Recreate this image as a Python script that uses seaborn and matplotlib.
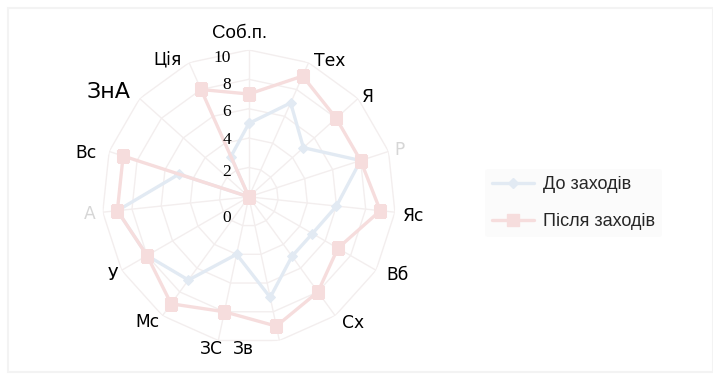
import numpy as np
import pandas as pd
import matplotlib
matplotlib.use("Agg")
import matplotlib.pyplot as plt
from matplotlib.lines import Line2D
from matplotlib.patches import Rectangle
import seaborn as sns

# Indicator codes around the radar, clockwise from the top
categories = ['Соб.п.', 'Тех', 'Я', 'Р', 'Яс', 'Вб', 'Сх', 'Зв', 'ЗС', 'Мс',
              'У', 'А', 'Вс', 'ЗнА', 'Ція']
before = [5, 7, 5, 8, 6, 5, 5, 7, 4, 7, 8, 9, 5, 0, 3]
after = [7, 9, 8, 8, 9, 7, 8, 9, 8, 9, 8, 9, 9, 0, 8]
series_names = ['До заходів', 'Після заходів']
r_ticks = [0, 2, 4, 6, 8, 10]

sns.set_theme(style='white')
plt.rcParams['font.family'] = ['DejaVu Sans']

W, H = 713, 380
fig = plt.figure(figsize=(W / 100, H / 100), dpi=100)
fig.patch.set_facecolor('white')

ax = fig.add_axes([0.143, 0.095, 0.412, 0.774], projection='polar')
ax.set_theta_offset(np.pi / 2)
ax.set_theta_direction(-1)
ax.set_ylim(0, max(r_ticks))
ax.grid(False)
ax.spines['polar'].set_visible(False)
ax.set_xticks([])
ax.set_yticks([])
ax.set_facecolor('none')

n = len(categories)
theta = np.linspace(0, 2 * np.pi, n, endpoint=False)
theta_closed = np.append(theta, theta[0])

# polygonal grid and spokes
grid_col = '#f3eeee'
for lvl in r_ticks[1:]:
    ax.plot(theta_closed, [lvl] * (n + 1), color=grid_col, lw=1.0, zorder=1)
for t in theta:
    ax.plot([t, t], [0, max(r_ticks)], color=grid_col, lw=1.0, zorder=1)

df = pd.DataFrame({
    'theta': np.concatenate([theta_closed, theta_closed]),
    'value': before + before[:1] + after + after[:1],
    'series': [series_names[0]] * (n + 1) + [series_names[1]] * (n + 1),
})

blue = '#e2eaf3'
red = '#f6dddd'
sns.lineplot(data=df[df.series == series_names[0]], x='theta', y='value',
             sort=False, estimator=None, color=blue, lw=2.4, marker='D',
             markersize=5.5, markeredgecolor=blue, ax=ax, zorder=3, legend=False)
sns.lineplot(data=df[df.series == series_names[1]], x='theta', y='value',
             sort=False, estimator=None, color=red, lw=2.4, marker='s',
             markersize=8.5, markeredgecolor=red, ax=ax, zorder=4, legend=False)
ax.set_xlabel('')
ax.set_ylabel('')
ax.set_ylim(0, max(r_ticks))


def ftext(px, py, s, ha='center', **kw):
    fig.text(px / W, 1 - py / H, s, ha=ha, va='center', **kw)


# category labels
label_pos = {
    'Соб.п.': (240, 33), 'Тех': (330, 61), 'Я': (368, 97), 'Р': (400, 150),
    'Яс': (414, 216), 'Вб': (397, 275), 'Сх': (353, 323), 'ЗС': (211, 349),
    'Зв': (243, 349), 'Мс': (147, 322), 'У': (113, 275), 'А': (90, 214),
    'Вс': (86, 153), 'ЗнА': (108, 92), 'Ція': (168, 59),
}
for cat in categories:
    px, py = label_pos[cat]
    if cat == 'ЗнА':
        size, family = 16, ['DejaVu Sans']
    elif cat == 'Соб.п.':
        size, family = 13.5, ['Liberation Sans']
    else:
        size, family = 12.3, ['DejaVu Sans']
    color = '#d6d6d6' if cat in ('Р', 'А') else 'black'
    ftext(px, py, cat, fontsize=size, color=color, family=family)

# radial scale values
tick_y = {10: 58, 8: 85, 6: 112, 4: 140, 2: 172, 0: 218}
for v in r_ticks:
    ftext(231, tick_y[v], str(v), ha='right', fontsize=12.5,
          family=['Liberation Serif'], color='black')

# legend
handles = [
    Line2D([], [], color=blue, lw=2.4, marker='D', markersize=5.5,
           markeredgecolor=blue),
    Line2D([], [], color=red, lw=2.4, marker='s', markersize=8.5,
           markeredgecolor=red),
]
leg = fig.legend(handles, series_names, loc='center left',
                 bbox_to_anchor=(476 / W, 1 - 203 / H), frameon=True,
                 facecolor='#fbfbfb', edgecolor='none', framealpha=1,
                 handlelength=2.3, handletextpad=0.5, labelspacing=1.1,
                 prop={'family': 'Liberation Sans', 'size': 13})

# faint outer frame
fig.add_artist(Rectangle((8 / W, 8 / H), (W - 8) / W, (H - 16) / H,
                         transform=fig.transFigure, fill=False,
                         edgecolor='#f3f3f3', lw=1.5))

fig.savefig('out.png', dpi=100)
